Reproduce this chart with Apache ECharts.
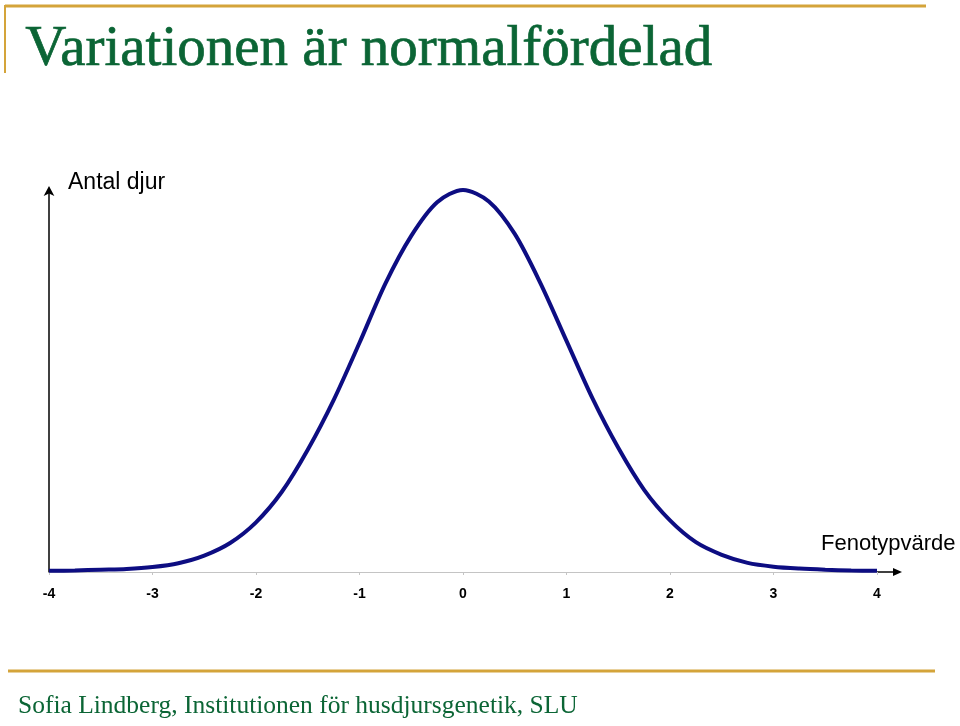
<!DOCTYPE html>
<html>
<head>
<meta charset="utf-8">
<script src="https://cdn.jsdelivr.net/npm/echarts@6/dist/echarts.min.js"></script>
<style>
html,body{margin:0;padding:0;background:#fff;}
#chart{width:960px;height:726px;}
</style>
</head>
<body>
<div id="chart"></div>
<script>
// Phenotype values (x) and relative number of animals (y)
const phenotype = [-4,-3.75,-3.5,-3.25,-3,-2.75,-2.5,-2.25,-2,-1.75,-1.5,-1.25,-1,-0.75,-0.5,-0.25,0,0.25,0.5,0.75,1,1.25,1.5,1.75,2,2.25,2.5,2.75,3,3.25,3.5,3.75,4];
const antal = [0.3,0.4,0.6,0.8,1.3,2.3,4.3,7.6,13,21,32,45,60,75.5,88,96.8,100,97,88.5,75.5,60.5,45.5,32.5,21.5,13.5,7.8,4.5,2.4,1.4,0.9,0.6,0.4,0.3];
const titleText = 'Variationen är normalfördelad';
const footerText = 'Sofia Lindberg, Institutionen för husdjursgenetik, SLU';
const yName = 'Antal djur';
const xName = 'Fenotypvärde';

const chart = echarts.init(document.getElementById('chart'), null, {renderer:'canvas'});
const gold = '#d4a43a';
const green = '#0b6535';
const serif = '"Liberation Serif","DejaVu Serif",serif';
const sans = '"Liberation Sans",Arial,sans-serif';

chart.setOption({
  animation:false,
  backgroundColor:'#ffffff',
  grid:{left:49, right:83, top:190, bottom:154},
  xAxis:{
    type:'value', min:-4, max:4, interval:1,
    axisLine:{show:true, onZero:false, lineStyle:{color:'#c4c4c4', width:1}},
    axisTick:{show:true, length:3, lineStyle:{color:'#c4c4c4'}},
    splitLine:{show:false},
    axisLabel:{color:'#000', fontFamily:sans, fontWeight:'bold', fontSize:14, margin:15}
  },
  yAxis:{
    type:'value', min:0, max:100,
    axisLine:{show:true, onZero:false, lineStyle:{color:'#000', width:1.5}, symbol:['none','arrow'], symbolSize:[8,10], symbolOffset:[0,4]},
    axisTick:{show:false}, axisLabel:{show:false}, splitLine:{show:false}
  },
  series:[{
    type:'line',
    data: phenotype.map((x,i)=>[x, antal[i]]),
    smooth:0.3,
    showSymbol:false,
    lineStyle:{color:'#0d0d82', width:4},
    z:5
  }],
  graphic:[
    {type:'line', shape:{x1:5,y1:6,x2:926,y2:6}, style:{stroke:gold, lineWidth:3}},
    {type:'line', shape:{x1:5,y1:5,x2:5,y2:73}, style:{stroke:gold, lineWidth:2}},
    {type:'line', shape:{x1:8,y1:671,x2:935,y2:671}, style:{stroke:gold, lineWidth:3}},
    {type:'text', left:25, top:21, style:{text:titleText, fill:green, stroke:green, lineWidth:0.7, font:'57px '+serif}},
    {type:'text', left:18, top:693, style:{text:footerText, fill:green, font:'25.5px '+serif}},
    {type:'text', left:68, top:171, style:{text:yName, fill:'#000', font:'23px '+sans}},
    {type:'text', left:821, top:533, style:{text:xName, fill:'#000', font:'22px '+sans}},
    {type:'line', shape:{x1:877,y1:572,x2:896,y2:572}, style:{stroke:'#000', lineWidth:1.5}},
    {type:'polygon', shape:{points:[[902,572],[893,568],[893,576]]}, style:{fill:'#000'}}
  ]
});
</script>
</body>
</html>
